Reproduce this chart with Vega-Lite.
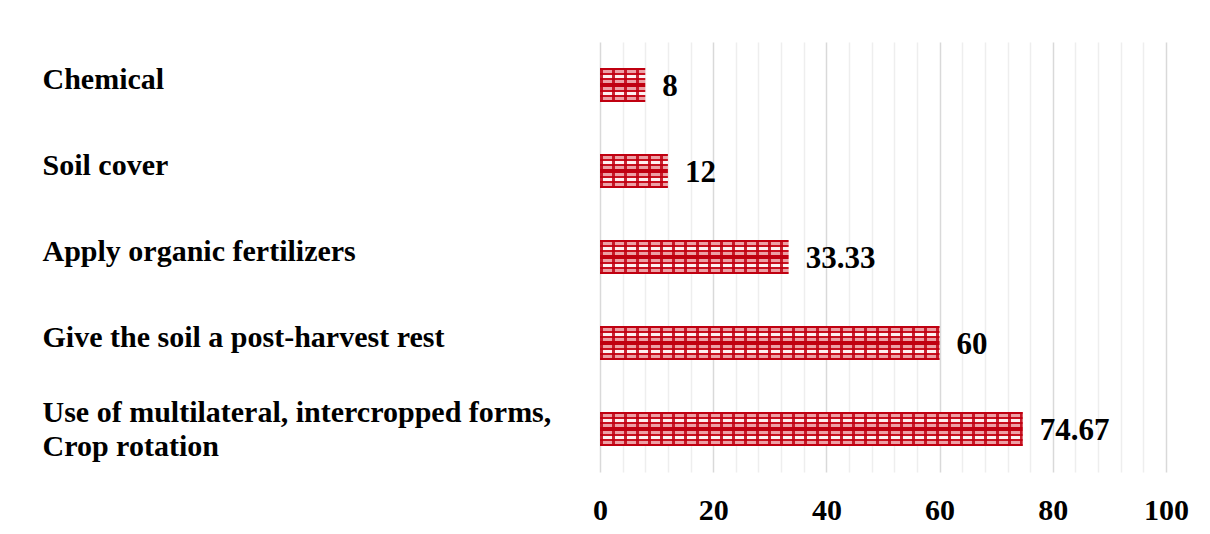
{
  "$schema": "https://vega.github.io/schema/vega-lite/v6.json",
  "autosize": "none",
  "width": 566,
  "height": 430,
  "padding": {"left": 600, "top": 42, "right": 44, "bottom": 62},
  "background": "white",
  "config": {
    "view": {"stroke": null},
    "font": "Liberation Serif"
  },
  "data": {
    "values": [
      {"practice": "Chemical", "percent": 8},
      {"practice": "Soil cover", "percent": 12},
      {"practice": "Apply organic fertilizers", "percent": 33.33},
      {"practice": "Give the soil a post-harvest rest", "percent": 60},
      {"practice": "Use of multilateral, intercropped forms,|Crop rotation", "percent": 74.67}
    ]
  },
  "encoding": {
    "y": {
      "field": "practice",
      "type": "nominal",
      "sort": null,
      "scale": {"paddingInner": 0, "paddingOuter": 0},
      "axis": {
        "title": null,
        "domain": false,
        "ticks": false,
        "grid": false,
        "labelAlign": "left",
        "labelBaseline": "middle",
        "labelPadding": 558,
        "labelLimit": 700,
        "labelFont": "Liberation Serif",
        "labelFontSize": 30,
        "labelFontWeight": "bold",
        "labelColor": "black",
        "labelLineHeight": 34,
        "labelOffset": {"condition": {"test": "indexof(datum.value, '|') >= 0", "value": -16}, "value": -5},
        "labelExpr": "split(datum.label, '|')"
      }
    },
    "x": {
      "field": "percent",
      "type": "quantitative",
      "scale": {"domain": [0, 100], "nice": false},
      "axis": {
        "title": null,
        "domain": false,
        "ticks": false,
        "values": [0, 4, 8, 12, 16, 20, 24, 28, 32, 36, 40, 44, 48, 52, 56, 60, 64, 68, 72, 76, 80, 84, 88, 92, 96, 100],
        "labelExpr": "datum.value % 20 === 0 ? datum.label : ''",
        "gridColor": {"condition": {"test": "datum.value % 20 === 0", "value": "#d9d9d9"}, "value": "#eeeeee"},
        "gridWidth": 1.5,
        "labelPadding": 23,
        "labelFont": "Liberation Serif",
        "labelFontSize": 30,
        "labelFontWeight": "bold",
        "labelColor": "black",
        "labelFlush": false
      }
    }
  },
  "layer": [
    {
      "mark": {
        "type": "bar",
        "size": 34,
        "fill": {
          "gradient": "linear",
          "x1": 0, "y1": 0, "x2": 0, "y2": 1,
          "stops": [
            {"offset": 0.0, "color": "#c00010"},
            {"offset": 0.06, "color": "#c00010"},
            {"offset": 0.06, "color": "#eda0a5"},
            {"offset": 0.15, "color": "#eda0a5"},
            {"offset": 0.15, "color": "#c8101e"},
            {"offset": 0.21, "color": "#c8101e"},
            {"offset": 0.21, "color": "#fdf0f0"},
            {"offset": 0.29, "color": "#fdf0f0"},
            {"offset": 0.29, "color": "#c8101e"},
            {"offset": 0.35, "color": "#c8101e"},
            {"offset": 0.35, "color": "#eda0a5"},
            {"offset": 0.44, "color": "#eda0a5"},
            {"offset": 0.44, "color": "#c00010"},
            {"offset": 0.56, "color": "#c00010"},
            {"offset": 0.56, "color": "#eda0a5"},
            {"offset": 0.65, "color": "#eda0a5"},
            {"offset": 0.65, "color": "#c8101e"},
            {"offset": 0.71, "color": "#c8101e"},
            {"offset": 0.71, "color": "#fdf0f0"},
            {"offset": 0.79, "color": "#fdf0f0"},
            {"offset": 0.79, "color": "#c8101e"},
            {"offset": 0.85, "color": "#c8101e"},
            {"offset": 0.85, "color": "#eda0a5"},
            {"offset": 0.94, "color": "#eda0a5"},
            {"offset": 0.94, "color": "#c00010"},
            {"offset": 1.0, "color": "#c00010"}
          ]
        }
      }
    },
    {
      "mark": {
        "type": "rule",
        "strokeWidth": 34,
        "strokeCap": "butt",
        "strokeDash": [3, 9],
        "color": "#c00010",
        "opacity": 0.85
      },
      "encoding": {
        "x": {"datum": 0},
        "x2": {"field": "percent"}
      }
    },
    {
      "mark": {
        "type": "text",
        "align": "left",
        "baseline": "middle",
        "dx": 17,
        "dy": 2,
        "font": "Liberation Serif",
        "fontSize": 31,
        "fontWeight": "bold",
        "color": "black"
      },
      "encoding": {
        "text": {"field": "percent", "type": "quantitative"}
      }
    }
  ]
}
